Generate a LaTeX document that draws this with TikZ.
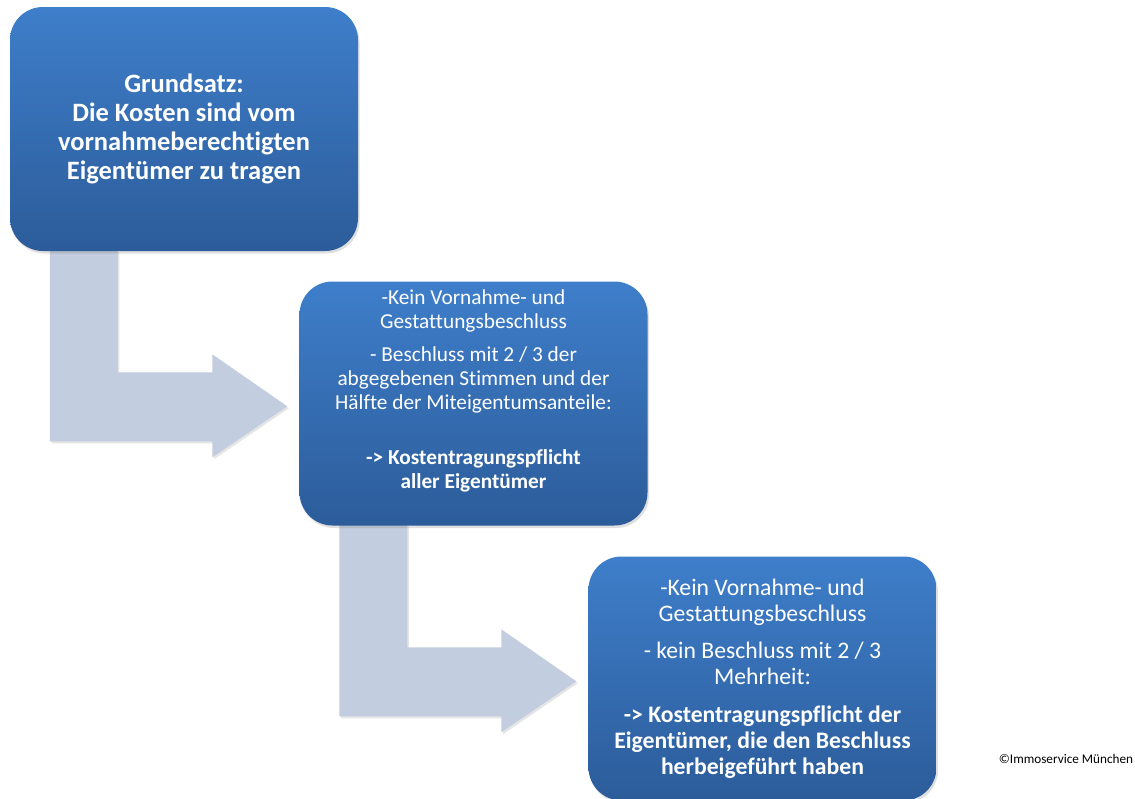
\documentclass[tikz,border=0pt]{standalone}
\usepackage{fontspec}
\setmainfont{Carlito}[Ligatures=NoCommon]
\usetikzlibrary{positioning,calc,shadows,backgrounds}
\definecolor{paneltop}{RGB}{62,126,202}
\definecolor{panelbot}{RGB}{44,92,154}
\definecolor{pipe}{RGB}{195,205,224}
\tikzset{
  panel/.style={rounded corners=33pt, top color=paneltop, bottom color=panelbot,
                minimum width=348pt, minimum height=244pt, inner sep=0pt,
                drop shadow={shadow xshift=1.5pt, shadow yshift=-2.5pt, opacity=.25}},
  ptext/.style={text=white, align=center, inner sep=0pt},
  bendarrow/.style={fill=pipe, drop shadow={shadow xshift=1.5pt, shadow yshift=-2pt, opacity=.2}},
  note/.style={font=\fontsize{13.2}{15}\selectfont, inner sep=0pt},
}

\begin{document}
\begin{tikzpicture}[x=1pt, y=-1pt]
    \useasboundingbox (0,0) rectangle (1135,798);

    \node[panel] (b1) at (184,129)     {};
    \node[panel] (b2) at (473.5,403.5) {};
    \node[panel] (b3) at (762.5,678.5) {};

    \node[ptext, font=\fontsize{26.5}{29}\selectfont\bfseries] (t1) at (b1.center)
      {Grundsatz:\\Die Kosten sind vom\\vornahmeberechtigten\\Eigentümer zu tragen};
    \node[ptext, font=\fontsize{21.3}{24}\selectfont] (t2) at ([yshift=13pt]b2.center)
      {-Kein Vornahme- und\\Gestattungsbeschluss\\[9pt]
       - Beschluss mit 2 / 3 der\\abgegebenen Stimmen und der\\Hälfte der Miteigentumsanteile:\\[31pt]
       \textbf{-> Kostentragungspflicht}\\\textbf{aller Eigentümer}};
    \node[ptext, font=\fontsize{23.7}{26}\selectfont] (t3) at (b3.center)
      {-Kein Vornahme- und\\Gestattungsbeschluss\\[11pt]
       - kein Beschluss mit 2 / 3\\Mehrheit:\\[12pt]
       \textbf{-> Kostentragungspflicht der}\\\textbf{Eigentümer, die den Beschluss}\\\textbf{herbeigeführt haben}};

    \node[note] (copy) at (1066,759) {©Immoservice München};

    \begin{scope}[on background layer]
      \fill[white] (0,0) rectangle (1135,798);
      \foreach \from/\to in {b1/b2, b2/b3}
        \fill[bendarrow] ($(\from.south west)+(40,-1)$) -- ($(\from.south west)+(108,-1)$)
          |- ($(\to.north west)+(-87,91)$) -- ($(\to.north west)+(-87,73)$)
          -- ($(\to.north west)+(-12,125)$) -- ($(\to.north west)+(-87,176)$)
          -- ($(\to.north west)+(-87,160)$) -| ($(\from.south west)+(40,-1)$) -- cycle;
    \end{scope}
  \end{tikzpicture}
\end{document}
